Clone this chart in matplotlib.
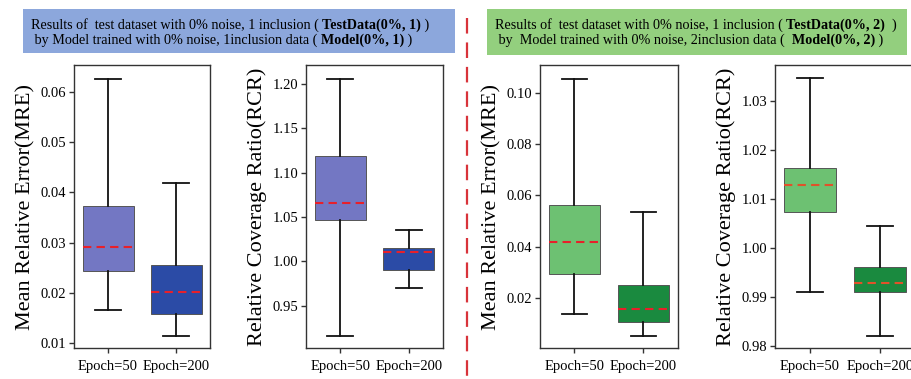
import matplotlib
matplotlib.use("Agg")
import matplotlib.pyplot as plt
from matplotlib.patches import Rectangle
from matplotlib.lines import Line2D
import numpy as np

plt.rcParams['font.family'] = ['Liberation Serif', 'DejaVu Serif']

# ============================================================
# Data
# ============================================================

epochs = ["Epoch=50", "Epoch=200"]

# box stats: whislo, q1, mean, q3, whishi
mre_1 = [[0.0165, 0.0244, 0.0292, 0.0373, 0.0626],
         [0.0113, 0.0157, 0.0202, 0.0255, 0.0419]]
rcr_1 = [[0.9158, 1.0466, 1.0661, 1.1190, 1.2056],
         [0.9696, 0.9902, 1.0101, 1.0154, 1.0353]]
mre_2 = [[0.0140, 0.0295, 0.0419, 0.0564, 0.1053],
         [0.0052, 0.0108, 0.0159, 0.0252, 0.0537]]
rcr_2 = [[0.9910, 1.0072, 1.0127, 1.0162, 1.0346],
         [0.9819, 0.9910, 0.9927, 0.9961, 1.0044]]

mre_1_ticks = [0.01, 0.02, 0.03, 0.04, 0.05, 0.06]
rcr_1_ticks = [0.95, 1.00, 1.05, 1.10, 1.15, 1.20]
mre_2_ticks = [0.02, 0.04, 0.06, 0.08, 0.10]
rcr_2_ticks = [0.98, 0.99, 1.00, 1.01, 1.02, 1.03]

title_1 = [
    [("Results of  test dataset with 0% noise, 1 inclusion ( ", "normal"),
     ("TestData(0%, 1)", "bold"), (" )", "normal")],
    [(" by Model trained with 0% noise, 1inclusion data ( ", "normal"),
     ("Model(0%, 1)", "bold"), (" )", "normal")],
]
title_2 = [
    [("Results of  test dataset with 0% noise, 1 inclusion ( ", "normal"),
     ("TestData(0%, 2)", "bold"), ("  )", "normal")],
    [(" by  Model trained with 0% noise, 2inclusion data (  ", "normal"),
     ("Model(0%, 2)", "bold"), (" )", "normal")],
]

blue_light, blue_dark = "#7377c3", "#2b4ba6"
green_light, green_dark = "#6dc172", "#1a8a3f"

# ============================================================
# Figure
# ============================================================

W, H = 912, 379
fig = plt.figure(figsize=(W / 100, H / 100), dpi=100)
overlay = fig.add_axes([0, 0, 1, 1])
overlay.set_xlim(0, W)
overlay.set_ylim(H, 0)
overlay.axis("off")


def box_panel(px_left, px_width, stats, colors, ticks, ylim, ylabel, mean_color):
    ax = fig.add_axes([px_left / W, 1 - 348 / H, px_width / W, 283 / H])
    bstats = []
    for lab, s in zip(epochs, stats):
        bstats.append(dict(label=lab, whislo=s[0], q1=s[1], med=s[2], q3=s[3], whishi=s[4]))
    parts = ax.bxp(bstats, positions=[0, 1], widths=0.75, patch_artist=True,
                   showfliers=False,
                   boxprops=dict(edgecolor="#555555", linewidth=0.7),
                   whiskerprops=dict(color="#111111", linewidth=1.3),
                   capprops=dict(color="#111111", linewidth=1.3),
                   medianprops=dict(color=mean_color, linewidth=1.5, linestyle=(0, (4, 2.5))))
    for patch, c in zip(parts["boxes"], colors):
        patch.set_facecolor(c)
    ax.set_xlim(-0.5, 1.5)
    ax.set_ylim(*ylim)
    ax.set_yticks(ticks)
    ax.set_yticklabels([f"{t:.2f}" for t in ticks])
    ax.set_ylabel(ylabel, fontsize=16, labelpad=4)
    ax.tick_params(labelsize=10.5, length=3.5, width=1, color="#333333", pad=2)
    ax.tick_params(axis="x", pad=5)
    for sp in ax.spines.values():
        sp.set_color("#333333")
        sp.set_linewidth(1.0)
    return ax


box_panel(74, 136, mre_1, [blue_light, blue_dark], mre_1_ticks, (0.009, 0.0654),
          "Mean Relative Error(MRE)", "#e8202a")
box_panel(306, 137, rcr_1, [blue_light, blue_dark], rcr_1_ticks, (0.9023, 1.2214),
          "Relative Coverage Ratio(RCR)", "#e8202a")
box_panel(540, 138, mre_2, [green_light, green_dark], mre_2_ticks, (0.0007, 0.1107),
          "Mean Relative Error(MRE)", "#e8202a")
box_panel(775, 140, rcr_2, [green_light, green_dark], rcr_2_ticks, (0.9795, 1.0373),
          "Relative Coverage Ratio(RCR)", "#e0522a")

# ============================================================
# Title boxes
# ============================================================

renderer = fig.canvas.get_renderer()


def title_box(x0, x1, y0, y1, color, lines, text_x):
    overlay.add_patch(Rectangle((x0, y0), x1 - x0, y1 - y0, facecolor=color,
                                edgecolor="none", zorder=0))
    for (baseline, line) in zip([29, 44], lines):
        x = text_x
        for s, w in line:
            t = overlay.text(x, baseline, s, fontweight=w, fontsize=10.2,
                             va="baseline", ha="left")
            bb = t.get_window_extent(renderer)
            x += bb.width  # 1 px per data unit (dpi=100 figure in pixels)


title_box(23, 455, 9, 53, "#8ca7dc", title_1, 31)
title_box(487, 907, 9, 55, "#93cf7e", title_2, 495)

# red dashed separator
overlay.add_line(Line2D([467, 467], [18, H], color="#d8333a", linewidth=1.6,
                        linestyle=(0, (7, 4))))

fig.savefig("out.png", dpi=100)
